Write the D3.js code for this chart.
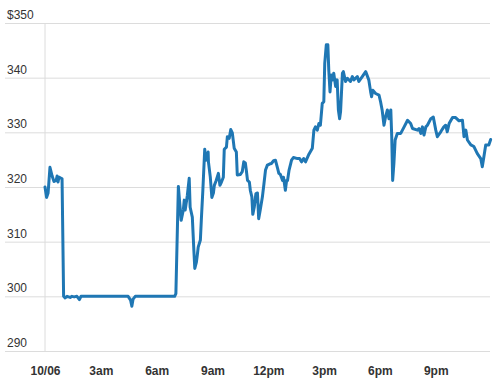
<!DOCTYPE html>
<html>
<head>
<meta charset="utf-8">
<script src="https://cdn.jsdelivr.net/npm/d3@7"></script>
<style>
  html, body { margin: 0; padding: 0; background: #fff; }
  svg { display: block; font-family: "Liberation Sans", Arial, sans-serif; }
</style>
</head>
<body>
<svg id="chart" width="500" height="384"></svg>
<script>
// ---- data ----
const times = ["00:00","00:05","00:10","00:16","00:23","00:29","00:36","00:39","00:42","00:45","00:52","00:55",
  "01:00","01:05","01:11","01:21","01:27","01:34","01:43","01:51","01:56","02:25","02:58","03:30","04:02","04:28",
  "04:36","04:40","04:44","04:51","05:23","05:55","06:28","06:58","07:02","07:10",
  "07:19","07:26","07:29","07:32","07:39","07:45","07:48","07:55","08:00","08:03","08:08","08:11","08:14","08:21",
  "08:24","08:29","08:35","08:39","08:46","08:47","08:53","08:58","09:03","09:06","09:12","09:19","09:24","09:29",
  "09:35","09:38","09:45","09:48","09:54","09:59","10:04","10:10","10:17","10:20","10:30","10:36","10:41","10:46",
  "10:49","10:53","10:59","11:02","11:07","11:10","11:15","11:20","11:25","11:29","11:34","11:41","11:46","11:51",
  "11:57","12:04","12:10","12:17","12:23","12:30","12:34","12:39","12:46","12:49","12:55","12:59","13:02","13:07",
  "13:15","13:21","13:34","13:41","13:47","13:54","14:00","14:11","14:22","14:27","14:32","14:38","14:43","14:48",
  "14:54","14:59","15:02","15:07","15:12","15:15","15:19","15:23","15:28","15:31","15:37","15:42","15:46","15:50",
  "15:53","15:59","16:02","16:09","16:15","16:25","16:31","16:36","16:47","16:52","17:03","17:14","17:24","17:30",
  "17:33","17:37","17:46","17:57","18:02","18:07","18:13","18:18","18:24","18:29","18:35","18:38","18:41","18:45",
  "18:49","18:56","19:07","19:18","19:29","19:39","19:45","20:01","20:06","20:12","20:17","20:22","20:28","20:33",
  "20:44","20:52","21:00","21:05","21:16","21:26","21:32","21:37","21:43","21:54","22:04","22:15","22:26","22:31",
  "22:37","22:42","22:53","23:03","23:14","23:25","23:30","23:35","23:41","23:51","23:57"];
const prices = [320.0,318.1,318.9,323.6,322.0,321.0,321.2,322.0,320.9,321.8,321.6,321.5,
  300.0,299.7,300.0,299.8,300.0,299.9,300.0,299.4,300.0,300.0,300.0,300.0,300.0,300.0,
  299.3,298.2,299.5,300.0,300.0,300.0,300.0,300.0,300.5,320.1,
  313.9,315.8,317.6,315.8,318.5,321.6,316.3,314.5,308.4,305.1,306.2,307.5,309.0,310.3,
  313.9,319.4,326.9,324.9,326.4,324.6,321.8,318.1,318.9,320.3,321.2,322.5,320.3,320.9,
  321.8,326.9,327.3,329.2,328.9,330.5,329.9,327.1,326.4,322.2,322.3,322.8,324.6,324.4,
  323.1,321.2,320.9,319.4,318.2,315.0,316.4,318.8,318.9,314.2,315.8,318.2,320.6,323.1,
  324.0,324.2,324.3,324.8,324.9,323.4,322.5,322.3,321.2,321.8,319.4,321.2,321.2,323.1,
  324.9,325.4,325.2,325.2,324.6,325.2,324.6,326.0,327.1,330.4,331.0,330.4,331.6,331.3,
  335.3,335.6,342.6,346.0,346.0,341.4,337.4,340.5,339.6,340.8,338.4,339.6,334.1,332.5,
  333.8,340.8,341.1,339.3,339.9,339.3,340.2,339.6,340.2,339.3,340.2,341.1,339.6,337.4,
  336.5,337.7,337.1,336.8,335.6,334.1,331.3,332.8,334.1,332.5,334.1,329.2,321.2,324.3,
  328.6,329.8,329.8,331.0,332.2,331.6,330.7,330.4,330.7,329.8,331.0,329.5,331.0,331.3,
  332.5,332.8,330.4,329.2,330.1,331.0,331.3,330.1,331.6,332.7,332.7,332.1,332.2,329.2,
  330.4,328.6,327.7,327.4,326.1,325.2,323.7,325.5,327.7,327.7,328.7];
const yTicks = [290, 300, 310, 320, 330, 340, 350];
const xTickHours = [0, 3, 6, 9, 12, 15, 18, 21];
const xTickLabels = ["10/06", "3am", "6am", "9am", "12pm", "3pm", "6pm", "9pm"];

// ---- build ----
const day = (h, m) => new Date(2015, 9, 6, h, m);
const data = times.map((t, i) => {
  const [h, m] = t.split(":").map(Number);
  return { date: day(h, m), value: prices[i] };
});

const svg = d3.select("#chart");
const x = d3.scaleTime().domain([day(0, 0), day(24, 0)]).range([45, 491.6]);
const y = d3.scaleLinear().domain([290, 350]).range([351, 23]);

// horizontal gridlines with labels
const yAxis = d3.axisRight(y)
  .tickValues(yTicks)
  .tickSize(485)
  .tickFormat(d => d === 350 ? "$" + d : String(d));
const gy = svg.append("g").attr("transform", "translate(5,0)").call(yAxis);
gy.select(".domain").remove();
gy.selectAll(".tick line").attr("stroke", "#dcdcdc").attr("stroke-width", 1);
gy.selectAll(".tick text")
  .attr("x", 2).attr("y", -4.5).attr("dy", 0)
  .attr("text-anchor", "start")
  .attr("fill", "#333").style("font-size", "12px")
  .style("font-family", "'Liberation Sans', Arial, sans-serif");

// vertical line at start of day
svg.append("line")
  .attr("x1", x(day(0, 0))).attr("x2", x(day(0, 0)))
  .attr("y1", y(350)).attr("y2", y(290))
  .attr("stroke", "#dcdcdc").attr("stroke-width", 1);

// x axis labels
const xAxis = d3.axisBottom(x)
  .tickValues(xTickHours.map(h => day(h, 0)))
  .tickSize(0)
  .tickFormat((d, i) => xTickLabels[i]);
const gx = svg.append("g").attr("transform", "translate(0,351)").call(xAxis);
gx.select(".domain").remove();
gx.selectAll(".tick text")
  .attr("y", 24).attr("dy", 0)
  .attr("fill", "#333").style("font-size", "12px").style("font-weight", "bold")
  .style("font-family", "'Liberation Sans', Arial, sans-serif");

// price line
const line = d3.line().x(d => x(d.date)).y(d => y(d.value));
svg.append("path")
  .datum(data)
  .attr("fill", "none")
  .attr("stroke", "#1f77b4")
  .attr("stroke-width", 3)
  .attr("stroke-linejoin", "round")
  .attr("stroke-linecap", "round")
  .attr("d", line);
</script>
</body>
</html>
